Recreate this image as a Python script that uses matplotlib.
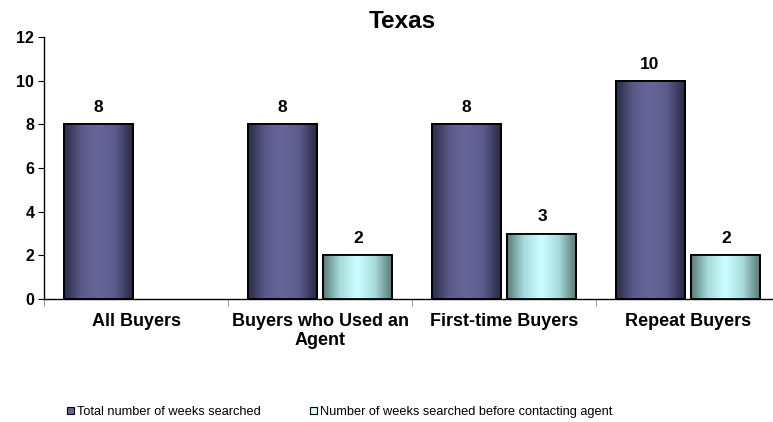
import numpy as np
import matplotlib
matplotlib.use("Agg")
import matplotlib.pyplot as plt
from matplotlib.patches import Patch
from matplotlib.colors import LinearSegmentedColormap

plt.rcParams['font.family'] = ['Liberation Sans', 'DejaVu Sans']

categories = ["All Buyers", "Buyers who Used an\nAgent", "First-time Buyers", "Repeat Buyers"]
total_weeks = [8, 8, 8, 10]
before_agent = [None, 2, 3, 2]
series_names = ["Total number of weeks searched", "Number of weeks searched before contacting agent"]
title = "Texas"
yticks = [0, 2, 4, 6, 8, 10, 12]

fig = plt.figure(figsize=(7.73, 4.22), dpi=100)
ax = fig.add_axes([44/773, 1-299/422, 736/773, 262/422])

x = np.arange(len(categories))
width = 0.375
offset = 0.2065

cmap_dark = LinearSegmentedColormap.from_list("d", ["#2a2a44", "#5a5a8a", "#666699", "#5a5a8a", "#2a2a44"])
cmap_cyan = LinearSegmentedColormap.from_list("c", ["#5a7a76", "#a8dcdc", "#ccffff", "#a8dcdc", "#5a7a76"])
grad = np.linspace(0, 1, 256).reshape(1, -1)

def draw_bars(xs, vals, cmap, face):
    for xi, v in zip(xs, vals):
        if v is None:
            continue
        b = ax.bar(xi, v, width, color=face, edgecolor="black", linewidth=1.3, zorder=3)[0]
        im = ax.imshow(grad, cmap=cmap, aspect="auto", extent=(xi - width/2, xi + width/2, 0, v), zorder=3.5)
        im.set_clip_path(b)
        ax.bar(xi, v, width, fill=False, edgecolor="black", linewidth=1.3, zorder=4)
        ax.annotate(f"{v}", (xi, v), xytext=(0, 6.5), textcoords="offset points",
                    ha="center", va="bottom", fontsize=12.5, fontweight="bold")

draw_bars(x - offset, total_weeks, cmap_dark, "#666699")
draw_bars(x + offset, before_agent, cmap_cyan, "#ccffff")

ax.set_xlim(-0.5, len(categories) - 0.5)
ax.set_ylim(0, 12)
ax.set_yticks(yticks)
ax.set_yticklabels([str(t) for t in yticks], fontsize=11.5, fontweight="bold")
ax.set_xticks(x)
ax.set_xticklabels(categories, fontsize=13, fontweight="bold", linespacing=1.2)
ax.tick_params(axis="x", length=0, pad=10)
ax.set_xticks(np.arange(-0.5, len(categories), 1), minor=True)
ax.tick_params(axis="x", which="minor", length=5, color="#888888", direction="out")
ax.tick_params(axis="y", length=4, direction="out", pad=3)
for s in ["top", "right"]:
    ax.spines[s].set_visible(False)
ax.spines["left"].set_linewidth(1)
ax.spines["bottom"].set_linewidth(1)

fig.text(402/773, 1-22/422, title, ha="center", va="center", fontsize=17.5, fontweight="bold")

handles = [Patch(facecolor="#666699", edgecolor="black", linewidth=0.8),
           Patch(facecolor="#ccffff", edgecolor="black", linewidth=0.8)]
fig.legend(handles, series_names, loc="center left", bbox_to_anchor=(67/773, 1-412/422),
           ncol=2, frameon=False, fontsize=9.2, handlelength=0.55, handleheight=0.55,
           handletextpad=0.25, columnspacing=3.8, borderaxespad=0, borderpad=0)

fig.savefig("out.png", dpi=100)
